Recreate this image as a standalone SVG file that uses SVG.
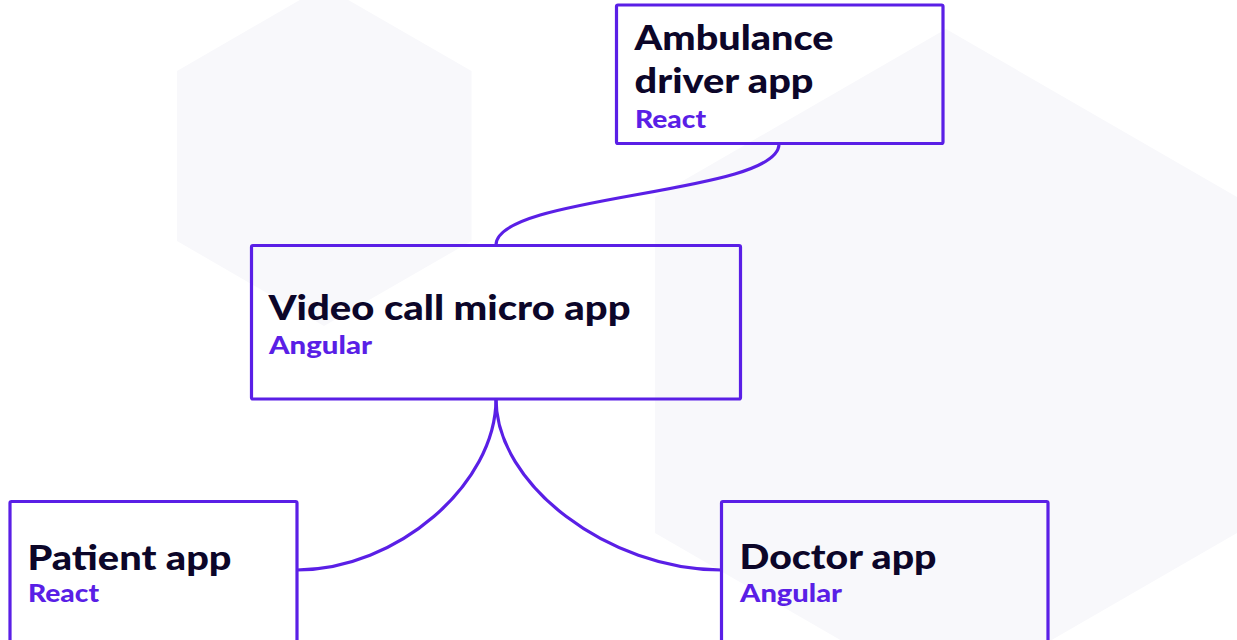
<svg xmlns="http://www.w3.org/2000/svg" width="1237" height="640" viewBox="0 0 1237 640">
  <style>
    .hex { fill: #F8F8FB; stroke: none; }
    .box { fill: none; stroke: #5A1FE6; stroke-width: 3.2; }
    .link { fill: none; stroke: #5A1FE6; stroke-width: 3.2; }
    .title { font-family: Lato, "Noto Sans", "Liberation Sans", sans-serif; font-weight: 900; font-size: 35px; fill: #0C0629; }
    .sub { font-family: Lato, "Noto Sans", "Liberation Sans", sans-serif; font-weight: 900; font-size: 24px; fill: #5A1FE6; }
  </style>
  <rect x="0" y="0" width="1237" height="640" fill="#FFFFFF"/>
  <g id="background">
    <polygon class="hex" points="324,-14 471.5,71 471.5,241 324,326 177,241 177,71"/>
    <polygon class="hex" points="946,29 1237,197 1237,533 946,701 655,533 655,197"/>
  </g>
  <g id="connectors">
    <path class="link" d="M779,144 C779,194.5 496,194.5 496,245"/>
    <path class="link" d="M496,399 C496,484.5 396.5,570 297,570"/>
    <path class="link" d="M496,399 C496,484.5 608.5,570 721,570"/>
  </g>
  <g id="ambulance">
    <rect class="box" x="616.5" y="5" width="326.5" height="138.5" rx="1.5"/>
    <text class="title" x="634.5" y="50" textLength="199" lengthAdjust="spacingAndGlyphs">Ambulance</text>
    <text class="title" x="634.5" y="93" textLength="179" lengthAdjust="spacingAndGlyphs">driver app</text>
    <text class="sub" x="635" y="127.5" textLength="71" lengthAdjust="spacingAndGlyphs">React</text>
  </g>
  <g id="video">
    <rect class="box" x="251.5" y="245.5" width="489" height="153.5" rx="1.5"/>
    <text class="title" x="268.5" y="320" textLength="362" lengthAdjust="spacingAndGlyphs">Video call micro app</text>
    <text class="sub" x="269" y="353.5" textLength="103" lengthAdjust="spacingAndGlyphs">Angular</text>
  </g>
  <g id="patient">
    <rect class="box" x="10" y="501.5" width="287" height="150" rx="1.5"/>
    <text class="title" x="27.5" y="570" textLength="204" lengthAdjust="spacingAndGlyphs">Patient app</text>
    <text class="sub" x="28" y="601.5" textLength="71" lengthAdjust="spacingAndGlyphs">React</text>
  </g>
  <g id="doctor">
    <rect class="box" x="721.5" y="501.5" width="326.5" height="150" rx="1.5"/>
    <text class="title" x="739.5" y="568.5" textLength="197" lengthAdjust="spacingAndGlyphs">Doctor app</text>
    <text class="sub" x="740" y="601.5" textLength="102" lengthAdjust="spacingAndGlyphs">Angular</text>
  </g>
</svg>
